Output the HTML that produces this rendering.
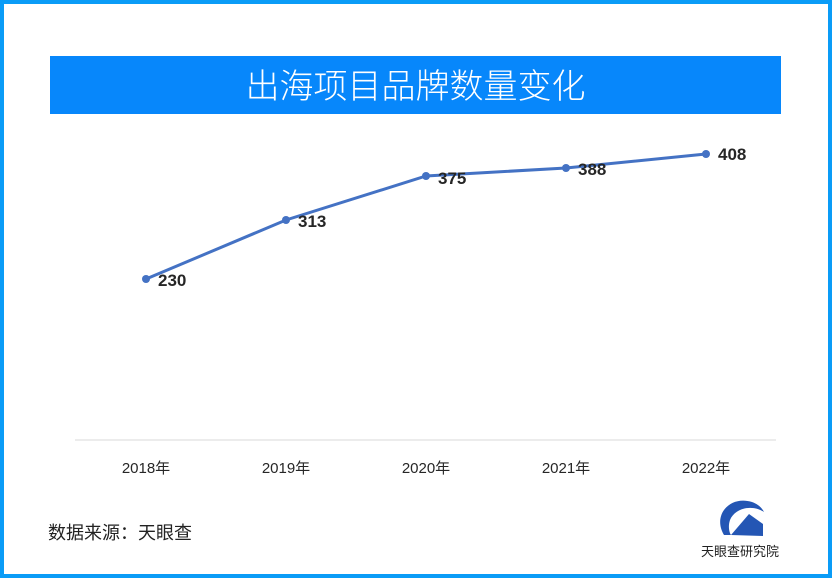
<!DOCTYPE html>
<html><head><meta charset="utf-8"><style>
html,body{margin:0;padding:0}
body{width:832px;height:578px;position:relative;background:#fff;font-family:"Liberation Sans","Noto Sans CJK SC",sans-serif;overflow:hidden}
.frame{position:absolute;left:0;top:0;width:824px;height:570px;border:4px solid #0a9cf7}
.title{position:absolute;left:50px;top:56px;width:731px;height:58px;background:#0787fb;color:#fff;font-size:34px;text-align:center;line-height:56px;font-family:"Noto Sans CJK SC",sans-serif;font-weight:300;letter-spacing:0px}
</style></head><body>
<div class="frame"></div>
<div class="title">出海项目品牌数量变化</div>
<svg width="832" height="578" style="position:absolute;left:0;top:0" font-family="Liberation Sans, Noto Sans CJK SC, sans-serif">
<line x1="75" y1="440" x2="776" y2="440" stroke="#d9d9d9" stroke-width="1"/>
<polyline points="146,279 286,220 426,176 566,168 706,154" fill="none" stroke="#4472c4" stroke-width="3"/>
<g fill="#4472c4"><circle cx="146" cy="279" r="4"/><circle cx="286" cy="220" r="4"/><circle cx="426" cy="176" r="4"/><circle cx="566" cy="168" r="4"/><circle cx="706" cy="154" r="4"/></g>
<g font-size="17" font-weight="bold" fill="#262626">
<text x="158" y="286">230</text><text x="298" y="227">313</text><text x="438" y="184">375</text><text x="578" y="175">388</text><text x="718" y="160">408</text></g>
<g font-size="15" fill="#262626" text-anchor="middle">
<text x="146" y="473">2018年</text><text x="286" y="473">2019年</text><text x="426" y="473">2020年</text><text x="566" y="473">2021年</text><text x="706" y="473">2022年</text></g>
<text x="48" y="539" font-size="18" fill="#222">数据来源：天眼查</text>
<path d="M724,535 C712,515 730,495 752,502 C758,504 762,508 764,512 C752,504 735,508 730,520 C728,526 729,532 731,535 Z" fill="#2456b4"/>
<path d="M731,535 L749,514 L763,524 L763,536 Z" fill="#2456b4"/>
<text x="740" y="556" font-size="13" fill="#222" text-anchor="middle">天眼查研究院</text>
</svg>
</body></html>
